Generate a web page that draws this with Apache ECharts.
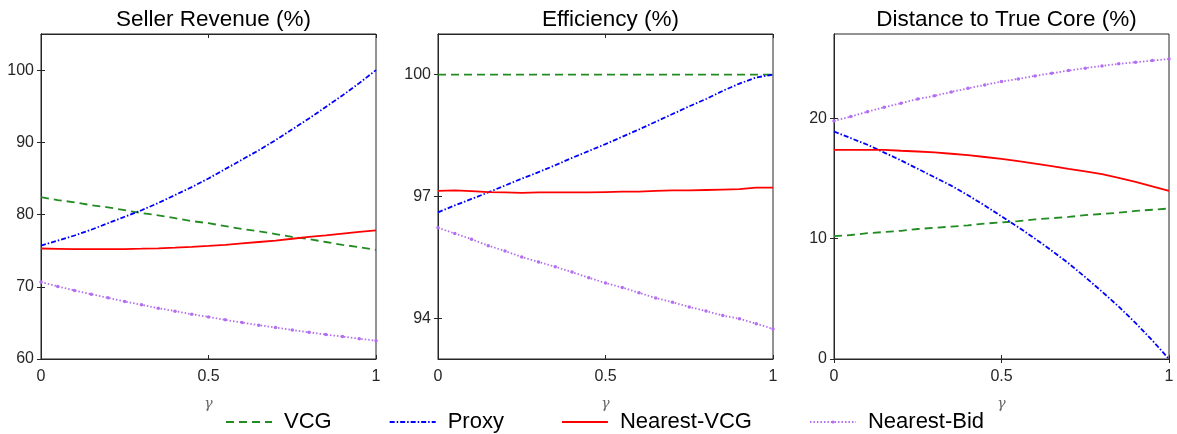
<!DOCTYPE html>
<html>
<head>
<meta charset="utf-8">
<script src="https://cdn.jsdelivr.net/npm/echarts@6/dist/echarts.min.js"></script>
<style>
  html, body { margin: 0; padding: 0; background: #fff; }
  #chart { width: 1177px; height: 434px; }
</style>
</head>
<body>
<div id="chart"></div>
<script>
// gamma steps 0 .. 1 by 0.05
const gamma = [0, 0.05, 0.1, 0.15, 0.2, 0.25, 0.3, 0.35, 0.4, 0.45, 0.5,
  0.55, 0.6, 0.65, 0.7, 0.75, 0.8, 0.85, 0.9, 0.95, 1];

const seriesNames = ['VCG', 'Proxy', 'Nearest-VCG', 'Nearest-Bid'];
const panelTitles = ['Seller Revenue (%)', 'Efficiency (%)', 'Distance to True Core (%)'];

// Seller Revenue (%)
const revVCG = [82.4, 82.0, 81.7, 81.3, 81.0, 80.6, 80.2, 79.9, 79.5, 79.1, 78.8,
  78.4, 78.0, 77.7, 77.3, 76.9, 76.6, 76.2, 75.8, 75.5, 75.1];
const revProxy = [75.7, 76.4, 77.1, 77.9, 78.8, 79.7, 80.6, 81.6, 82.7, 83.8, 85.0,
  86.3, 87.6, 88.9, 90.3, 91.8, 93.3, 94.9, 96.5, 98.2, 100.0];
const revNearestVCG = [75.3, 75.25, 75.2, 75.2, 75.2, 75.22, 75.27, 75.33, 75.42, 75.52, 75.65,
  75.8, 76.0, 76.2, 76.4, 76.65, 76.9, 77.12, 77.37, 77.6, 77.8];
const revNearestBid = [70.65, 70.05, 69.49, 68.98, 68.47, 67.96, 67.5, 67.04, 66.62, 66.2, 65.83,
  65.42, 65.05, 64.68, 64.35, 64.03, 63.7, 63.38, 63.1, 62.82, 62.54];

// Efficiency (%)
const effVCG = [100, 100, 100, 100, 100, 100, 100, 100, 100, 100, 100,
  100, 100, 100, 100, 100, 100, 100, 100, 100, 100];
const effProxy = [96.61, 96.78, 96.94, 97.1, 97.27, 97.44, 97.6, 97.77, 97.95, 98.12, 98.29,
  98.47, 98.65, 98.84, 99.03, 99.22, 99.4, 99.6, 99.78, 99.93, 100.0];
const effNearestVCG = [97.14, 97.15, 97.13, 97.11, 97.1, 97.09, 97.1, 97.1, 97.1, 97.1, 97.11,
  97.12, 97.12, 97.14, 97.15, 97.15, 97.16, 97.17, 97.18, 97.22, 97.22];
const effNearestBid = [96.23, 96.09, 95.95, 95.79, 95.66, 95.51, 95.39, 95.27, 95.14, 95.0, 94.87,
  94.76, 94.63, 94.5, 94.4, 94.28, 94.18, 94.07, 93.99, 93.87, 93.74];

// Distance to True Core (%)
const distVCG = [10.2, 10.3, 10.45, 10.55, 10.65, 10.8, 10.9, 11.0, 11.1, 11.25, 11.35,
  11.45, 11.6, 11.7, 11.8, 11.95, 12.05, 12.15, 12.3, 12.4, 12.5];
const distProxy = [18.9, 18.35, 17.8, 17.15, 16.5, 15.8, 15.1, 14.4, 13.6, 12.75, 11.85,
  10.95, 10.0, 9.0, 7.95, 6.8, 5.6, 4.35, 3.0, 1.55, 0];
const distNearestVCG = [17.37, 17.38, 17.38, 17.37, 17.3, 17.24, 17.16, 17.05, 16.93, 16.78, 16.62,
  16.44, 16.24, 16.03, 15.8, 15.58, 15.35, 15.05, 14.72, 14.35, 13.96];
const distNearestBid = [19.78, 20.14, 20.55, 20.91, 21.25, 21.6, 21.86, 22.19, 22.49, 22.77, 23.05,
  23.27, 23.52, 23.74, 23.96, 24.16, 24.35, 24.52, 24.65, 24.79, 24.93];

// y ranges + tick labels per panel
const yMin = [60, 93, 0];
const yMax = [105, 101, 27];
const yTicks = [[60, 70, 80, 90, 100], [94, 97, 100], [0, 10, 20]];
const xTicks = [0, 0.5, 1];

const panelData = [
  [revVCG, revProxy, revNearestVCG, revNearestBid],
  [effVCG, effProxy, effNearestVCG, effNearestBid],
  [distVCG, distProxy, distNearestVCG, distNearestBid]
];

const axisColor = '#262626';
const font = 'Liberation Sans, Arial, sans-serif';
const gridLeft = [41, 438, 834];
const gridW = 335;

const styles = [
  { color: '#228B22', type: [8, 5], symbol: 'none' },
  { color: '#0000FF', type: [5, 2, 1.5, 2], symbol: 'none' },
  { color: '#FF0000', type: 'solid', symbol: 'none' },
  { color: '#B36EF0', type: [1.5, 2], symbol: 'circle' }
];

const grid = [], xAxis = [], yAxis = [], title = [], series = [];

// ticks point into the plot (matlab style)
function tickOpt(vals) {
  return { show: true, inside: false, length: -4, customValues: vals, lineStyle: { color: axisColor } };
}

gridLeft.forEach((left, p) => {
  grid.push({
    left: left, top: 34, width: gridW, height: 325,
    show: true, borderColor: axisColor, borderWidth: 1, backgroundColor: '#fff'
  });
  title.push({
    text: panelTitles[p],
    left: left + gridW / 2, top: 3, textAlign: 'center',
    textStyle: { fontFamily: font, fontSize: 22.5, fontWeight: 'normal', color: '#000' }
  });
  // bottom x
  xAxis.push({
    gridIndex: p, type: 'value', min: 0, max: 1, position: 'bottom',
    name: 'γ', nameLocation: 'middle', nameGap: 38,
    nameTextStyle: { fontFamily: 'DejaVu Serif, serif', fontStyle: 'italic', fontSize: 14, color: '#666' },
    axisLine: { show: true, lineStyle: { color: axisColor, width: 1 } },
    axisTick: tickOpt(xTicks),
    axisLabel: { customValues: xTicks, margin: 10, fontFamily: font, fontSize: 16, color: axisColor },
    splitLine: { show: false }
  });
  // top x (ticks only)
  xAxis.push({
    gridIndex: p, type: 'value', min: 0, max: 1, position: 'top',
    axisLine: { show: true, lineStyle: { color: axisColor, width: 1 } },
    axisTick: tickOpt(xTicks),
    axisLabel: { show: false },
    splitLine: { show: false }
  });
  // left y
  yAxis.push({
    gridIndex: p, type: 'value', min: yMin[p], max: yMax[p], position: 'left',
    axisLine: { show: true, lineStyle: { color: axisColor, width: 1 } },
    axisTick: tickOpt(yTicks[p]),
    axisLabel: { customValues: yTicks[p], margin: 7, fontFamily: font, fontSize: 16, color: axisColor },
    splitLine: { show: false }
  });
  // right y (ticks only)
  yAxis.push({
    gridIndex: p, type: 'value', min: yMin[p], max: yMax[p], position: 'right',
    axisLine: { show: true, lineStyle: { color: axisColor, width: 1 } },
    axisTick: tickOpt(yTicks[p]),
    axisLabel: { show: false },
    splitLine: { show: false }
  });

  panelData[p].forEach((vals, s) => {
    const st = styles[s];
    series.push({
      name: seriesNames[s],
      type: 'line',
      xAxisIndex: p * 2,
      yAxisIndex: p * 2,
      data: gamma.map((g, i) => [g, vals[i]]),
      symbol: st.symbol,
      symbolSize: 3.5,
      showSymbol: st.symbol !== 'none',
      itemStyle: { color: st.color },
      lineStyle: { color: st.color, width: 1.8, type: st.type },
      z: 3 + s,
      silent: true
    });
  });
});

// legend: hide the marker for the three plain lines, keep a tiny dot for Nearest-Bid
const legendData = seriesNames.map((n, s) => ({
  name: n,
  itemStyle: s === 3 ? { color: styles[3].color } : { opacity: 0 }
}));

const chart = echarts.init(document.getElementById('chart'));
chart.setOption({
  animation: false,
  backgroundColor: '#fff',
  title: title,
  grid: grid,
  xAxis: xAxis,
  yAxis: yAxis,
  legend: {
    data: legendData,
    left: 220, top: 406,
    itemWidth: 46, itemHeight: 4, itemGap: 57,
    textStyle: { fontFamily: font, fontSize: 22, color: '#000', padding: [0, 0, 0, 7] }
  },
  series: series
});
</script>
</body>
</html>
